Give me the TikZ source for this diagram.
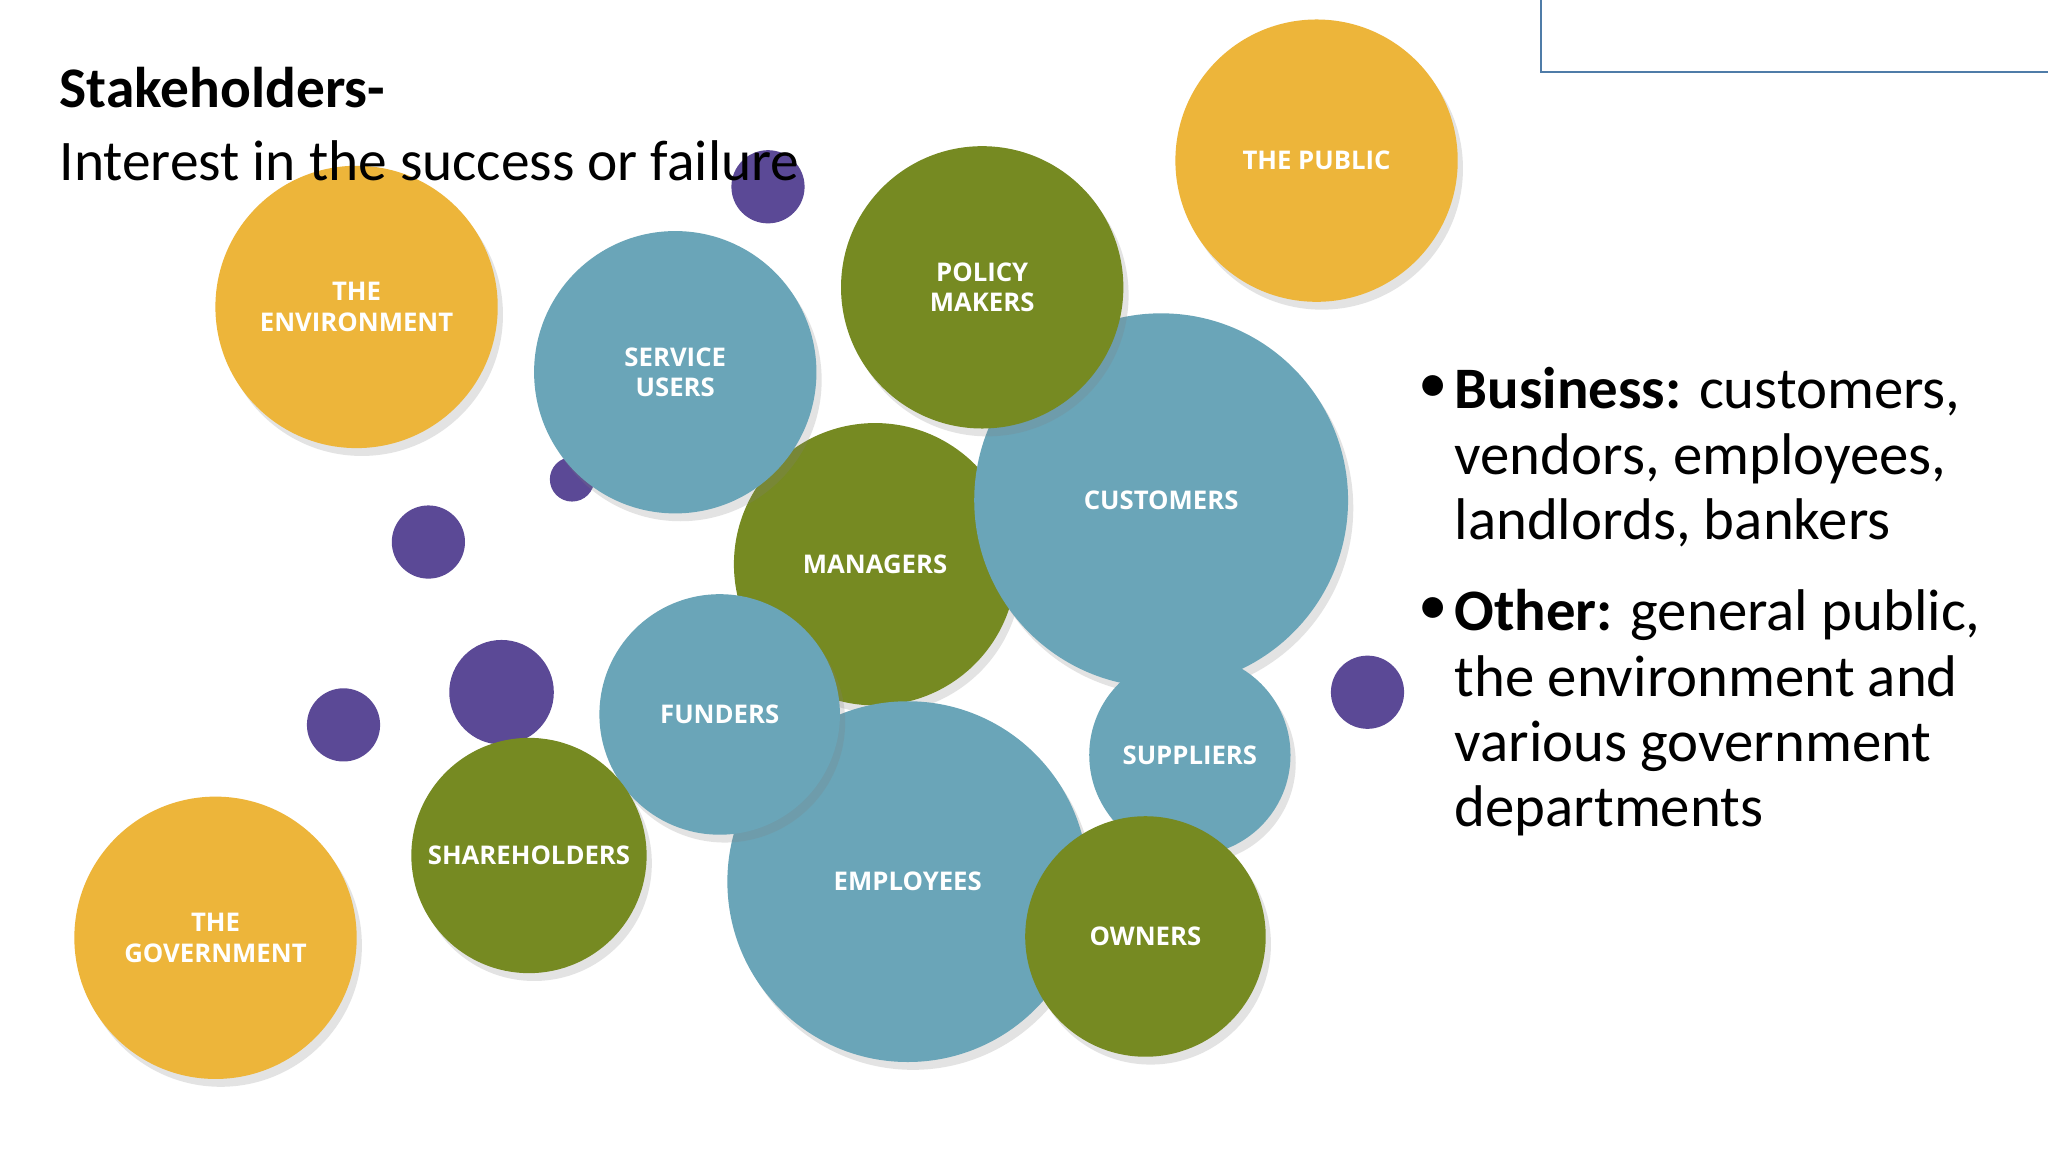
\documentclass[tikz,border=0pt]{standalone}
\usepackage{fontspec}
\setmainfont{Carlito}
\newfontfamily\lab{Open Sans}
\usetikzlibrary{shadows}
\definecolor{cy}{HTML}{EDB53A}
\definecolor{cg}{HTML}{768A22}
\definecolor{cb}{HTML}{6AA5B8}
\definecolor{cp}{HTML}{5B4996}
\definecolor{cbox}{HTML}{4F7CA8}
\tikzset{
 bub/.style={circle,inner sep=0pt,minimum size=#1*0.02cm,drop shadow={opacity=0.22,shadow xshift=0.04cm,shadow yshift=-0.06cm},
   text=white,font=\lab\fontsize{5.6}{6.6}\selectfont\bfseries,align=center},
 dot/.style={circle,inner sep=0pt,minimum size=#1*0.02cm,fill=cp},
 ttl/.style={anchor=base west,inner sep=0pt,font=\fontsize{12.5}{14}\selectfont},
 btx/.style={anchor=base west,inner sep=0pt,font=\fontsize{12.8}{14}\selectfont},
}
\begin{document}
\begin{tikzpicture}[x=0.01cm,y=-0.01cm]
\useasboundingbox (0,0) rectangle (1568,882);
\fill[white] (0,0) rectangle (1568,882);
\draw[cbox,line width=0.5pt] (1180,-5) -- (1180,55) -- (1573,55);
% purple dots
\node[dot=28] (d1) at (588,143) {};
\node[dot=17] (d2) at (438,367) {};
\node[dot=28] (d3) at (328,415) {};
\node[dot=40] (d4) at (384,530) {};
\node[dot=28] (d5) at (263,555) {};
\node[dot=28] (d6) at (1047,530) {};
% bubbles
\node[bub=108,fill=cy] (pub) at (1008,123) {THE PUBLIC};
\node[bub=108,fill=cy] (env) at (273,235) {THE\\ENVIRONMENT};
\node[bub=108,fill=cy] (gov) at (165,718) {THE\\GOVERNMENT};
\node[bub=108,fill=cg] (man) at (670,432) {MANAGERS};
\node[bub=143,fill=cb] (cus) at (889,383) {CUSTOMERS};
\node[bub=108,fill=cb] (ser) at (517,285) {SERVICE\\USERS};
\node[bub=108,fill=cg] (pol) at (752,220) {POLICY\\MAKERS};
\node[bub=77,fill=cb] (sup) at (911,578) {SUPPLIERS};
\node[bub=138,fill=cb] (emp) at (695,675) {EMPLOYEES};
\node[bub=92,fill=cb] (fun) at (551,547) {FUNDERS};
\node[bub=92,fill=cg] (own) at (877,717) {OWNERS};
\node[bub=90,fill=cg] (sha) at (405,655) {SHAREHOLDERS};
% title
\node[ttl] (t1) at (45,82) {\bfseries Stakeholders-};
\node[ttl] (t2) at (45,138) {Interest in the success or failure};
% bullets
\node[btx] (b0) at (1085,308) {\textbullet};
\node[btx] (b1) at (1113,313) {\textbf{Business:} customers,};
\node[btx] (b2) at (1113,363) {vendors, employees,};
\node[btx] (b3) at (1113,413) {landlords, bankers};
\node[btx] (c0) at (1085,478) {\textbullet};
\node[btx] (c1) at (1113,483) {\textbf{Other:} general public,};
\node[btx] (c2) at (1113,533) {the environment and};
\node[btx] (c3) at (1113,583) {various government};
\node[btx] (c4) at (1113,633) {departments};
\end{tikzpicture}
\end{document}
